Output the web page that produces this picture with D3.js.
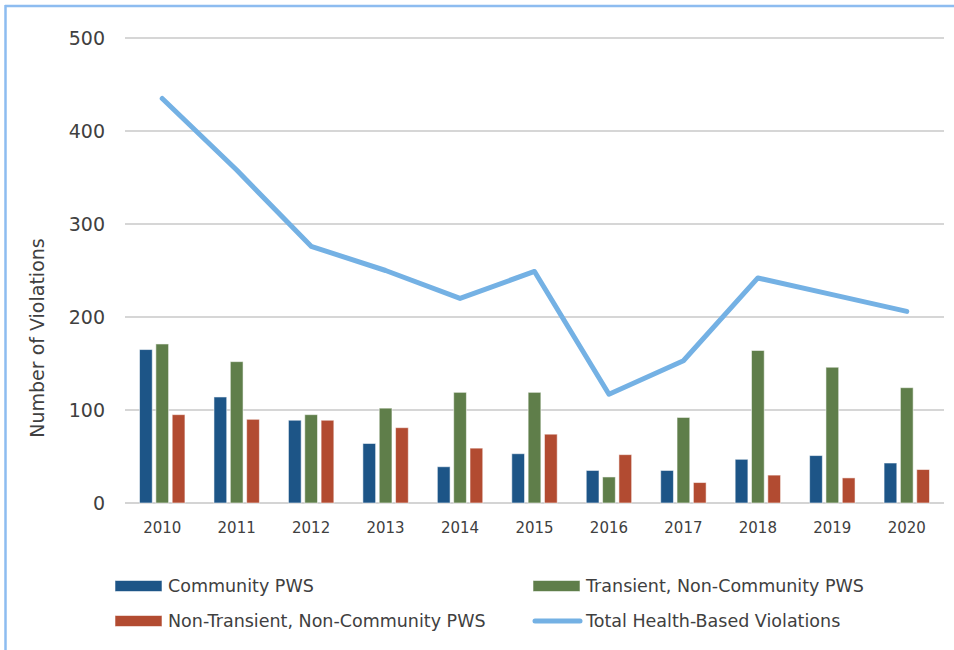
<!DOCTYPE html>
<html>
<head>
<meta charset="utf-8">
<script src="https://cdn.jsdelivr.net/npm/d3@7"></script>
<style>
	body { margin: 0; background: #fff; }
	svg { display: block; }
	text { font-family: "DejaVu Sans", sans-serif; fill: #404040; }
</style>
</head>
<body>
<div id="chart"></div>
<script>
var years = ['2010','2011','2012','2013','2014','2015','2016','2017','2018','2019','2020'];
var community = [165,114,89,64,39,53,35,35,47,51,43];
var transient = [171,152,95,102,119,119,28,92,164,146,124];
var nonTransient = [95,90,89,81,59,74,52,22,30,27,36];
var totalViolations = [435,358,276,250,220,249,117,153,242,224,206];
var yTicks = [0,100,200,300,400,500];

var seriesNames = ['Community PWS','Transient, Non-Community PWS','Non-Transient, Non-Community PWS'];
var seriesColors = ['#1d5587','#5f7e4a','#b24b31'];
var lineName = 'Total Health-Based Violations';
var lineColor = '#74b1e4';

var width = 954, height = 650;

var svg = d3.select('#chart').append('svg')
	.attr('width', width)
	.attr('height', height);

// frame: only top and left edges are visible
svg.append('line')
	.attr('x1', 5).attr('x2', width)
	.attr('y1', 6).attr('y2', 6)
	.attr('stroke', '#8dbcf0').attr('stroke-width', 2.5);
svg.append('line')
	.attr('x1', 5.5).attr('x2', 5.5)
	.attr('y1', 5).attr('y2', height)
	.attr('stroke', '#8dbcf0').attr('stroke-width', 2.5);

var x0 = d3.scaleBand()
	.domain(years)
	.range([125, 944])
	.paddingInner(0.39)
	.paddingOuter(0.195);

var x1 = d3.scaleBand()
	.domain(d3.range(seriesNames.length))
	.range([0, x0.bandwidth()])
	.paddingInner(0.22)
	.paddingOuter(0);

var y = d3.scaleLinear()
	.domain([0, 500])
	.range([503, 38]);

// gridlines
svg.append('g').selectAll('line')
	.data(yTicks)
	.enter()
		.append('line')
			.attr('x1', 125)
			.attr('x2', 944)
			.attr('y1', function(d){ return y(d); })
			.attr('y2', function(d){ return y(d); })
			.attr('stroke', function(d){ return d === 0 ? '#d4d4d4' : '#c8c8c8'; })
			.attr('stroke-width', function(d){ return d === 0 ? 2 : 1.5; });

// y axis labels
svg.append('g').selectAll('text')
	.data(yTicks)
	.enter()
		.append('text')
			.text(function(d){ return d; })
			.attr('x', 105)
			.attr('y', function(d){ return y(d); })
			.attr('dy', '0.35em')
			.attr('font-size', '19px')
			.style('text-anchor', 'end');

svg.append('text')
	.text('Number of Violations')
	.attr('transform', 'translate(44,338) rotate(-90)')
	.attr('font-size', '19px')
	.style('text-anchor', 'middle');

// x axis labels
svg.append('g').selectAll('text')
	.data(years)
	.enter()
		.append('text')
			.text(function(d){ return d; })
			.attr('x', function(d){ return x0(d) + x0.bandwidth()/2; })
			.attr('y', 533)
			.attr('font-size', '15px')
			.style('text-anchor', 'middle');

// bars
var seriesData = [community, transient, nonTransient];
var groups = svg.append('g').selectAll('g')
	.data(years)
	.enter()
		.append('g')
			.attr('transform', function(d){ return 'translate(' + x0(d) + ',0)'; });

groups.selectAll('rect')
	.data(function(d,i){
		return seriesData.map(function(s,k){ return {k: k, value: s[i]}; });
	})
	.enter()
		.append('rect')
			.attr('x', function(d){ return x1(d.k); })
			.attr('width', x1.bandwidth())
			.attr('y', function(d){ return y(d.value); })
			.attr('height', function(d){ return y(0) - y(d.value); })
			.attr('fill', function(d){ return seriesColors[d.k]; })
			.attr('stroke', 'rgba(255,255,255,0.55)')
			.attr('stroke-width', 1);

// total line
var line = d3.line()
	.x(function(d,i){ return x0(years[i]) + x0.bandwidth()/2; })
	.y(function(d){ return y(d); });

svg.append('path')
	.datum(totalViolations)
	.attr('d', line)
	.attr('fill', 'none')
	.attr('stroke', lineColor)
	.attr('stroke-width', 5)
	.attr('stroke-linejoin', 'round')
	.attr('stroke-linecap', 'round');

// legend
var legendItems = [
	{name: seriesNames[0], color: seriesColors[0], type: 'rect', x: 115, y: 586},
	{name: seriesNames[1], color: seriesColors[1], type: 'rect', x: 533, y: 586},
	{name: seriesNames[2], color: seriesColors[2], type: 'rect', x: 115, y: 621},
	{name: lineName, color: lineColor, type: 'line', x: 533, y: 621}
];

var legend = svg.append('g').selectAll('g')
	.data(legendItems)
	.enter()
		.append('g')
			.attr('transform', function(d){ return 'translate(' + d.x + ',' + d.y + ')'; });

legend.filter(function(d){ return d.type === 'rect'; })
	.append('rect')
		.attr('x', 0)
		.attr('y', -5.5)
		.attr('width', 47)
		.attr('height', 11)
		.attr('fill', function(d){ return d.color; })
		.attr('stroke', 'rgba(255,255,255,0.55)');

legend.filter(function(d){ return d.type === 'line'; })
	.append('line')
		.attr('x1', 2)
		.attr('x2', 47)
		.attr('y1', 0)
		.attr('y2', 0)
		.attr('stroke', function(d){ return d.color; })
		.attr('stroke-width', 5)
		.attr('stroke-linecap', 'round');

legend.append('text')
	.text(function(d){ return d.name; })
	.attr('x', 53)
	.attr('y', 0)
	.attr('dy', '0.35em')
	.attr('font-size', '17.5px');
</script>
</body>
</html>
